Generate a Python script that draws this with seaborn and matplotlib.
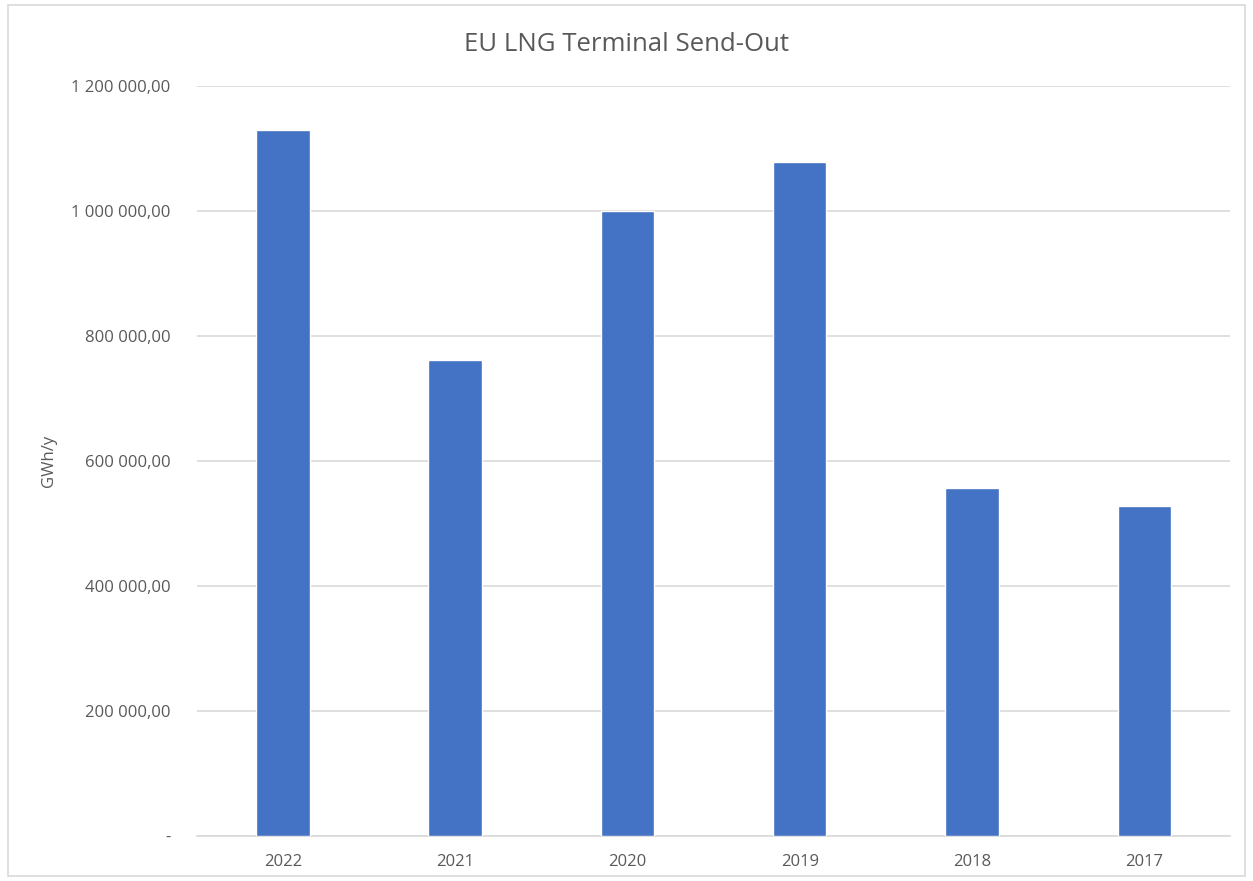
import pandas as pd
import seaborn as sns
import matplotlib.pyplot as plt
from matplotlib.patches import Rectangle
from matplotlib.ticker import FuncFormatter

years = ['2022', '2021', '2020', '2019', '2018', '2017']
send_out = [1129500, 761500, 1000000, 1079500, 556500, 528000]

df = pd.DataFrame({'year': years, 'gwh': send_out})

sns.set_theme(style='white')
plt.rcParams['font.family'] = ['Open Sans', 'DejaVu Sans']

fig = plt.figure(figsize=(12.53, 8.81), dpi=100)
ax = fig.add_axes([0.157, 0.051, 0.825, 0.851])

sns.barplot(data=df, x='year', y='gwh', color='#4472c4', width=0.31,
            saturation=1, ax=ax, zorder=3)

def fmt(v, pos):
    if v == 0:
        return '-'
    return f'{v:,.2f}'.replace(',', ' ').replace('.', ',')

ax.set_ylim(0, 1200000)
ax.set_yticks(range(0, 1200001, 200000))
ax.yaxis.set_major_formatter(FuncFormatter(fmt))
ax.grid(axis='y', color='#d9d9d9', linewidth=1.2, zorder=0)
for s in ['top', 'right', 'left']:
    ax.spines[s].set_visible(False)
ax.spines['bottom'].set_color('#d9d9d9')
ax.spines['bottom'].set_linewidth(1.2)
ax.tick_params(axis='both', colors='#595959', labelsize=12, length=0)
ax.tick_params(axis='y', pad=19)
ax.tick_params(axis='x', pad=13)
ax.set_xlabel('')
ax.set_ylabel('GWh/y', color='#595959', fontsize=12, labelpad=10)
fig.suptitle('EU LNG Terminal Send-Out', color='#595959', fontsize=18.5,
             x=0.5, y=0.949, va='center')

fig.patches.append(Rectangle((0.006, 0.006), 0.988, 0.988, transform=fig.transFigure,
                             fill=False, edgecolor='#d9d9d9', linewidth=1.2))

fig.savefig('out.png', dpi=100)
